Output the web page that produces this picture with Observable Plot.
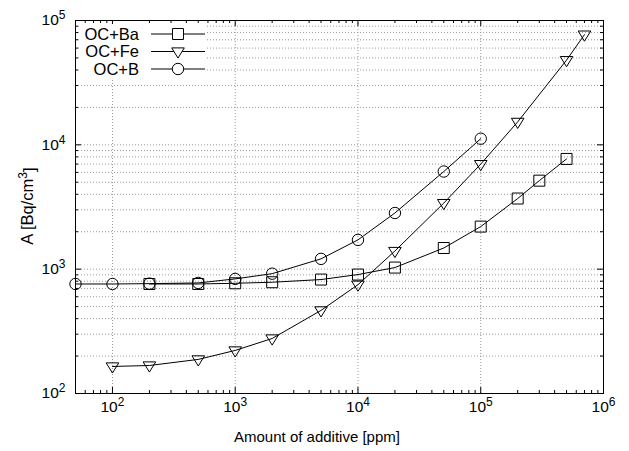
<!DOCTYPE html>
<html>
<head>
<meta charset="utf-8">
<script src="https://cdn.jsdelivr.net/npm/d3@7"></script>
<script src="https://cdn.jsdelivr.net/npm/@observablehq/plot@0.6"></script>
<style>
  html, body { margin: 0; padding: 0; background: white; }
  #chart { width: 629px; height: 451px; }
</style>
</head>
<body>
<div id="chart"></div>
<script>
// ---- data ----
const seriesNames = ["OC+Ba", "OC+Fe", "OC+B"];

const ppmBa = [200, 500, 1000, 2000, 5000, 10000, 20000, 50000, 100000, 200000, 300000, 500000];
const actBa = [760, 760, 770, 785, 825, 905, 1030, 1480, 2200, 3700, 5150, 7700];

const ppmFe = [100, 200, 500, 1000, 2000, 5000, 10000, 20000, 50000, 100000, 200000, 500000, 700000];
const actFe = [165, 168, 188, 222, 277, 466, 750, 1400, 3400, 7000, 15300, 48000, 77000];

const ppmB = [50, 100, 200, 500, 1000, 2000, 5000, 10000, 20000, 50000, 100000];
const actB = [760, 760, 765, 775, 835, 920, 1210, 1720, 2830, 6100, 11200];

const xMajor = [1e2, 1e3, 1e4, 1e5, 1e6];
const yMajor = [1e2, 1e3, 1e4, 1e5];
const xLabel = "Amount of additive [ppm]";
const yLabelBase = "A [Bq/cm";
const yLabelExp = "3";
const yLabelEnd = "]";

// ---- layout ----
const W = 629, H = 451;
const mL = 75, mR = 26, mT = 20, mB = 58;
const fw = W - mL - mR, fh = H - mT - mB;
const xDomain = [50, 1e6], yDomain = [100, 1e5];

const xAll = d3.scaleLog().domain(xDomain).ticks().filter(v => v >= xDomain[0] && v <= xDomain[1]);
const yAll = d3.scaleLog().domain(yDomain).ticks().filter(v => v >= yDomain[0] && v <= yDomain[1]);
const xMinor = xAll.filter(v => !xMajor.includes(v));
const yMinor = yAll.filter(v => !yMajor.includes(v));

const toRows = (xs, ys, s) => xs.map((x, i) => ({x, y: ys[i], s}));
const dBa = toRows(ppmBa, actBa, seriesNames[0]);
const dFe = toRows(ppmFe, actFe, seriesNames[1]);
const dB = toRows(ppmB, actB, seriesNames[2]);

// triangle pointing down
const triDown = {
  draw(ctx, size) {
    const r = Math.sqrt(size / Math.PI);
    ctx.moveTo(-1.05 * r, -0.6 * r);
    ctx.lineTo(1.05 * r, -0.6 * r);
    ctx.lineTo(0, 1.1 * r);
    ctx.closePath();
  }
};

const sup = d => "10^" + Math.round(Math.log10(d));
const grid = {stroke: "#999", strokeOpacity: 1, strokeWidth: 1, strokeDasharray: "1,2"};
const fontFam = "'Liberation Sans', Arial, sans-serif";

const plot = Plot.plot({
  width: W, height: H,
  marginLeft: mL, marginRight: mR, marginTop: mT, marginBottom: mB,
  style: {fontFamily: fontFam, fontSize: "15px", background: "white", color: "black"},
  x: {type: "log", domain: xDomain, axis: null},
  y: {type: "log", domain: yDomain, axis: null},
  marks: [
    Plot.ruleY(yAll, {y: d => d, ...grid}),
    Plot.ruleX(xMajor, {x: d => d, ...grid}),
    // inward ticks, all four sides
    Plot.tickX(xMajor, {x: d => d, insetTop: fh - 6, stroke: "black"}),
    Plot.tickX(xMajor, {x: d => d, insetBottom: fh - 6, stroke: "black"}),
    Plot.tickX(xMinor, {x: d => d, insetTop: fh - 3, stroke: "black"}),
    Plot.tickX(xMinor, {x: d => d, insetBottom: fh - 3, stroke: "black"}),
    Plot.tickY(yMajor, {y: d => d, insetRight: fw - 6, stroke: "black"}),
    Plot.tickY(yMajor, {y: d => d, insetLeft: fw - 6, stroke: "black"}),
    Plot.tickY(yMinor, {y: d => d, insetRight: fw - 3, stroke: "black"}),
    Plot.tickY(yMinor, {y: d => d, insetLeft: fw - 3, stroke: "black"}),
    Plot.frame({stroke: "black", strokeWidth: 1}),
    // tick labels
    Plot.text(xMajor, {x: d => d, frameAnchor: "bottom", dy: 18, text: sup, textAnchor: "middle", fontSize: 15.5}),
    Plot.text(yMajor, {y: d => d, frameAnchor: "left", dx: -10, text: sup, textAnchor: "end", fontSize: 15.5}),
    // series
    Plot.line(dBa, {x: "x", y: "y", stroke: "black", strokeWidth: 1}),
    Plot.line(dFe, {x: "x", y: "y", stroke: "black", strokeWidth: 1}),
    Plot.line(dB, {x: "x", y: "y", stroke: "black", strokeWidth: 1}),
    Plot.dot(dBa, {x: "x", y: "y", symbol: "square", r: 6.2, stroke: "black", fill: "none", strokeWidth: 1}),
    Plot.dot(dFe, {x: "x", y: "y", symbol: triDown, r: 6, stroke: "black", fill: "none", strokeWidth: 1}),
    Plot.dot(dB, {x: "x", y: "y", symbol: "circle", r: 5.7, stroke: "black", fill: "none", strokeWidth: 1})
  ]
});

document.getElementById("chart").appendChild(plot);
const svg = d3.select(plot);

// superscripts in tick labels
svg.selectAll("text").each(function() {
  const m = /^10\^(\d)$/.exec(this.textContent);
  if (!m) return;
  const t = d3.select(this);
  t.text(null);
  t.append("tspan").text("10");
  t.append("tspan").attr("dy", "-0.5em").style("font-size", "12px").text(m[1]);
});

// axis labels
svg.append("text")
  .attr("x", 317).attr("y", 442)
  .attr("text-anchor", "middle")
  .style("font-family", fontFam).style("font-size", "15px")
  .attr("fill", "black").text(xLabel);
{
  const t = svg.append("text")
    .attr("transform", "translate(33,206) rotate(-90)")
    .attr("text-anchor", "middle")
    .style("font-family", fontFam).style("font-size", "16.5px")
    .attr("fill", "black");
  t.append("tspan").text(yLabelBase);
  t.append("tspan").attr("dy", "-0.5em").style("font-size", "12px").text(yLabelExp);
  t.append("tspan").attr("dy", "0.5em").text(yLabelEnd);
}

// legend
const lg = svg.append("g");
lg.append("rect").attr("x", 81).attr("y", 24).attr("width", 126).attr("height", 54).attr("fill", "white");
const symbols = [d3.symbolSquare, triDown, d3.symbolCircle];
const rs = [6.2, 6, 5.7];
seriesNames.forEach((name, i) => {
  const cy = 34 + i * 17.5;
  lg.append("text").attr("x", 139).attr("y", cy + 5.5).attr("text-anchor", "end")
    .style("font-family", fontFam).style("font-size", "16.5px")
    .attr("fill", "black").text(name);
  lg.append("line").attr("x1", 151).attr("x2", 205).attr("y1", cy).attr("y2", cy).attr("stroke", "black");
  lg.append("path")
    .attr("transform", `translate(178,${cy})`)
    .attr("d", d3.symbol(symbols[i], Math.PI * rs[i] * rs[i])())
    .attr("fill", "white").attr("stroke", "black");
});
</script>
</body>
</html>
